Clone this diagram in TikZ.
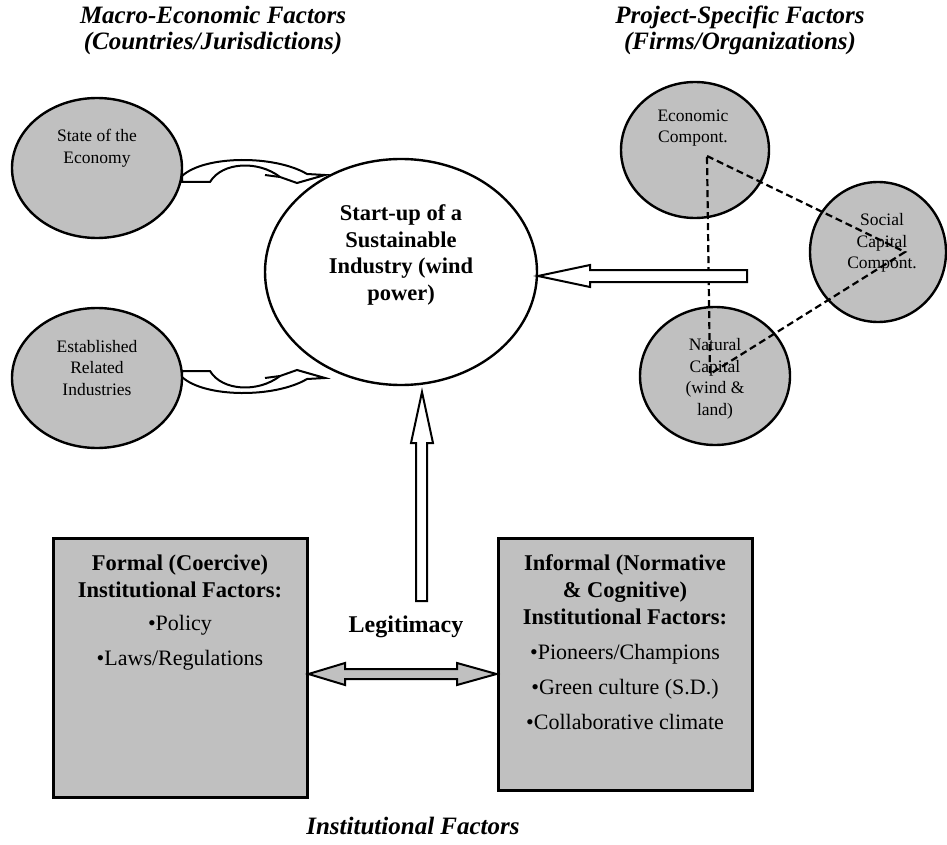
\documentclass[tikz,border=0pt]{standalone}
\usepackage{fontspec}
\setmainfont{Liberation Serif}
\usetikzlibrary{shapes.geometric}
\definecolor{boxgray}{RGB}{192,192,192}
\begin{document}
\begin{tikzpicture}[x=1pt,y=-1pt,
  circ/.style={ellipse, draw=black, line width=2.4pt, fill=boxgray, inner sep=0pt},
  hub/.style={ellipse, draw=black, line width=2.4pt, fill=white, inner sep=0pt},
  smalltxt/.style={align=center, font=\fontsize{17.5}{21.5}\selectfont, inner sep=0pt},
  hubtxt/.style={align=center, font=\fontsize{22.5}{26.7}\selectfont\bfseries, inner sep=0pt},
  titletxt/.style={align=center, font=\fontsize{25}{26}\selectfont\bfseries\itshape, inner sep=0pt},
  boxhead/.style={align=center, font=\fontsize{22.5}{27}\selectfont\bfseries, inner sep=0pt},
  boxitem/.style={align=center, font=\fontsize{22}{35}\selectfont, inner sep=0pt},
  instbox/.style={draw=black, line width=3pt, fill=boxgray},
  blockarrow/.style={draw=black, line width=2pt, fill=white, line join=miter},
  triline/.style={draw=black, line width=2.2pt, dash pattern=on 7pt off 4pt}
]
\useasboundingbox (0,0) rectangle (947,845);

% titles
\node[titletxt] (tmacro) at (213,30) {Macro-Economic Factors\\(Countries/Jurisdictions)};
\node[titletxt] (tproj) at (740,30) {Project-Specific Factors\\(Firms/Organizations)};
\node[titletxt] (tinst) at (413,826) {Institutional Factors};

% macro-economic ellipses
\node[circ, minimum width=170pt, minimum height=140pt] (soe) at (97,168) {};
\node[smalltxt] (soeT) at (97,148) {State of the\\Economy};
\node[circ, minimum width=170pt, minimum height=140pt] (eri) at (97,378) {};
\node[smalltxt] (eriT) at (97,368) {Established\\Related\\Industries};

% central ellipse
\node[hub, minimum width=272pt, minimum height=226pt] (hub) at (401,272) {};
\node[hubtxt] (hubT) at (401,255) {Start-up of a\\Sustainable\\Industry (wind\\power)};

% project-specific circles
\node[circ, minimum width=148pt, minimum height=136pt] (eco) at (695,150) {};
\node[smalltxt] (ecoT) at (693,128) {Economic\\Compont.};
\node[circ, minimum width=136pt, minimum height=140pt] (soc) at (878,252) {};
\node[smalltxt] (socT) at (882,243) {Social\\Capital\\Compont.};
\node[circ, minimum width=150pt, minimum height=138pt] (nat) at (715,376) {};
\node[smalltxt] (natT) at (715,379) {Natural\\Capital\\(wind \&\\land)};

% dashed triangle
\coordinate (ta) at (707,156);
\coordinate (tb) at (905,252);
\coordinate (tc) at (710,374);
\draw[triline] (ta) -- (tb) -- (tc) -- cycle;

% curved arrows from macro factors
\draw[blockarrow] (182,176) .. controls (205,155) and (275,155) .. (307,174) -- (325,175) -- (297,183) -- (280,177)
  .. controls (258,160) and (222,162) .. (210,182) -- (182,182) -- cycle;
\draw[line width=2pt] (265,175) -- (280,177);
\draw[blockarrow] (182,377) .. controls (205,398) and (275,398) .. (307,379) -- (325,378) -- (297,370) -- (280,376)
  .. controls (258,393) and (222,391) .. (210,371) -- (182,371) -- cycle;
\draw[line width=2pt] (265,378) -- (280,376);

% arrow from project-specific factors
\coordinate (rtip) at (538,276);
\draw[blockarrow] (rtip) -- (590,265) -- (590,270) -- (747,270) -- (747,282) -- (590,282) -- (590,287) -- cycle;

% up arrow (legitimacy)
\coordinate (utip) at (422,392);
\draw[blockarrow] (utip) -- (433,443) -- (427,443) -- (427,601) -- (416,601) -- (416,443) -- (411,443) -- cycle;
\node[font=\fontsize{24}{28}\selectfont\bfseries, inner sep=0pt] (legit) at (406,627) {Legitimacy};

% institutional boxes
\node[instbox, minimum width=254pt, minimum height=259pt, inner sep=0pt] (formal) at (180,667.5) {};
\node[instbox, minimum width=254pt, minimum height=252pt, inner sep=0pt] (informal) at (625,664) {};
\node[boxhead] (formalH) at (180,576.5) {Formal (Coercive)\\Institutional Factors:};
\node[boxitem] (formalI) at (180,642.5) {•Policy\\•Laws/Regulations};
\node[boxhead] (informalH) at (625,590) {Informal (Normative\\\& Cognitive)\\Institutional Factors:};
\node[boxitem] (informalI) at (625,687) {•Pioneers/Champions\\•Green culture (S.D.)\\•Collaborative climate};

% double arrow between boxes
\draw[blockarrow, fill=boxgray] (formal.east |- 0,674) -- (345,663) -- (345,669) -- (457,669) -- (457,663)
  -- (informal.west |- 0,674) -- (457,685) -- (457,679) -- (345,679) -- (345,685) -- cycle;
\end{tikzpicture}
\end{document}
